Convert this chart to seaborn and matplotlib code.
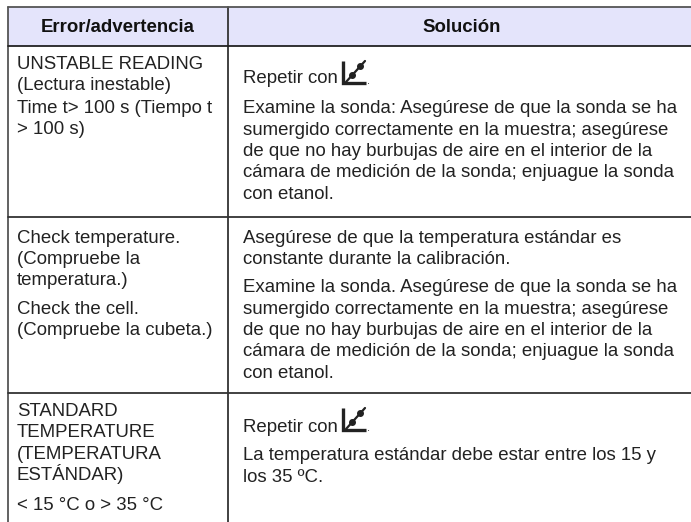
import matplotlib
matplotlib.use('Agg')
import matplotlib.pyplot as plt
import seaborn as sns

#---------------------------------------------------------
header_left='Error/advertencia'
header_right='Solución'

left_lines=['UNSTABLE READING', '(Lectura inestable)', 'Time t> 100 s (Tiempo t', '> 100 s)',
	'Check temperature.', '(Compruebe la', 'temperatura.)', 'Check the cell.', '(Compruebe la cubeta.)',
	'STANDARD', 'TEMPERATURE', '(TEMPERATURA', 'ESTÁNDAR)', '< 15 °C o > 35 °C']
left_y=[69, 90, 113, 134, 243, 264, 285, 314, 335, 416, 437, 459, 480, 510]

right_lines=['Repetir con', 'Examine la sonda: Asegúrese de que la sonda se ha',
	'sumergido correctamente en la muestra; asegúrese', 'de que no hay burbujas de aire en el interior de la',
	'cámara de medición de la sonda; enjuague la sonda', 'con etanol.',
	'Asegúrese de que la temperatura estándar es', 'constante durante la calibración.',
	'Examine la sonda. Asegúrese de que la sonda se ha', 'sumergido correctamente en la muestra; asegúrese',
	'de que no hay burbujas de aire en el interior de la', 'cámara de medición de la sonda; enjuague la sonda',
	'con etanol.', 'Repetir con', 'La temperatura estándar debe estar entre los 15 y', 'los 35 ºC.']
right_y=[83, 113, 135, 156, 177, 199, 243, 264, 292, 314, 335, 356, 378, 432, 460, 482]

col_x=[8, 228, 696]
row_y=[7, 45.5, 217, 393, 522]
icon_base=[84, 431]

#--------------------------------------------------------
def plt_table(f_out, sz=(6.91, 5.22)):
	sns.set_theme(style='white')
	plt.rcParams['font.family']=['Liberation Sans', 'DejaVu Sans']
	fig, ax=plt.subplots(figsize=sz)
	ax.set_position([0, 0, 1, 1])
	#header
	ax.fill_between(col_x[::2], row_y[0], row_y[1], color='#e4e4fb', lw=0)
	#rules
	for x, clr in zip(col_x[:2], ['#555555', '#333333']):
		sns.lineplot(x=[x, x], y=[row_y[0], row_y[-1]], color=clr, lw=1.3, ax=ax, legend=False, estimator=None)
	for y, clr in zip(row_y[:-1], ['#555555', '#222222', '#333333', '#333333']):
		sns.lineplot(x=[col_x[0], col_x[-1]], y=[y, y], color=clr, lw=1.3, ax=ax, legend=False, estimator=None)
	ax.text((col_x[0]+col_x[1])/2, 32, header_left, fontsize=13.4, weight='bold', ha='center', va='baseline', color='#111111')
	ax.text((col_x[1]+col_x[2])/2, 32, header_right, fontsize=13.4, weight='bold', ha='center', va='baseline', color='#111111')
	#text
	for text, y in zip(left_lines, left_y):
		ax.text(17, y, text, fontsize=13.4, ha='left', va='baseline', color='#222222')
	for text, y in zip(right_lines, right_y):
		ax.text(243, y, text, fontsize=13.4, ha='left', va='baseline', color='#222222')
	#icon
	for y in icon_base:
		ax.plot([343.5, 343.5, 366], [y-23, y-1, y-1], color='#222222', lw=2.4, solid_capstyle='butt', solid_joinstyle='miter')
		ax.plot([346, 365], [y-2, y-23], color='#222222', lw=1.6)
		ax.plot([352, 360], [y-9, y-18], ls='none', marker='o', ms=4, color='#222222')
		ax.text(367, y, '.', fontsize=8, ha='left', va='baseline', color='#222222')
	ax.set_xlim(0, 691)
	ax.set_ylim(522, 0)
	ax.axis('off')
	#save
	plt.savefig(f_out, dpi=100)
	plt.close()
	return


########################################################################
plt_table('out.png')
